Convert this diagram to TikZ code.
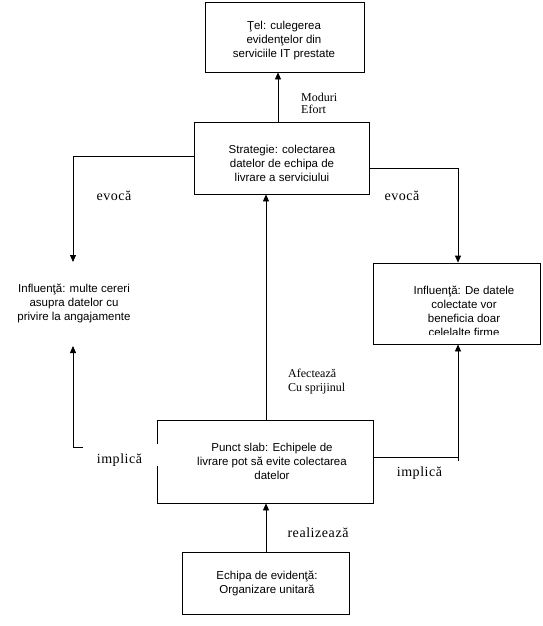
\documentclass[tikz,border=0pt]{standalone}
\usepackage{fontspec}
\setmainfont{Liberation Serif}
\newfontfamily\sansfam{Liberation Sans}
\newfontfamily\widefam[LetterSpace=4]{Liberation Serif}
\usetikzlibrary{arrows.meta}
\begin{document}
\begin{tikzpicture}[x=1pt,y=-1pt,
  box/.style={draw, line width=0.8pt, inner sep=0pt},
  stxt/.style={font=\sansfam\fontsize{11.5}{14}\selectfont, align=center, inner sep=0pt},
  lbl/.style={font=\fontsize{12}{14}\selectfont, inner sep=0pt},
  blbl/.style={font=\widefam\fontsize{14}{16}\selectfont, inner sep=0pt},
  ln/.style={line width=0.8pt},
  arr/.style={line width=0.8pt, -{Triangle[width=6pt,length=7pt]}}]
\useasboundingbox (0,0) rectangle (543,626);
% boxes
\node[box, minimum width=159pt, minimum height=70pt] (tel) at (284.5,37) {};
\node[stxt] (telt) at (284,40.5) {Ţel: culegerea\\evidenţelor din\\serviciile IT prestate};
\node[box, minimum width=175pt, minimum height=72pt] (strat) at (281.5,158) {};
\node[stxt] (stratt) at (282,163) {Strategie: colectarea\\datelor de echipa de\\livrare a serviciului};
\node[box, minimum width=167pt, minimum height=81pt] (infr) at (456.5,303.5) {};
\begin{scope}
  \clip (373,263) rectangle (540,334.5);
  \node[stxt] (infrt) at (464,311) {Influenţă: De datele\\colectate vor\\beneficia doar\\celelalte firme};
\end{scope}
\node[stxt] (infl) at (74,303) {Influenţă: multe cereri\\asupra datelor cu\\privire la angajamente};
\node[box, minimum width=216pt, minimum height=83pt] (punct) at (265,461.5) {};
\node[stxt] (punctt) at (272,461) {Punct slab: Echipele de\\livrare pot să evite colectarea\\datelor};
\node[box, minimum width=167pt, minimum height=62pt] (echipa) at (265.5,583) {};
\node[stxt] (echipat) at (267,583.5) {Echipa de evidenţă:\\Organizare unitară};
% helper coordinates
\coordinate (c1) at (278,0);
\coordinate (c2) at (73,156);
\coordinate (c2e) at (73,262);
\coordinate (c3) at (458,168);
\coordinate (c4) at (266,0);
\coordinate (c5) at (73,447);
\coordinate (c5e) at (73,346);
\coordinate (c6) at (458,457);
\coordinate (c6b) at (458,461);
% connectors
\draw[arr] (strat.north -| c1) -- (tel.south -| c1);
\draw[arr] (strat.west |- c2) -- (c2) -- (c2e);
\draw[arr] (strat.east |- c3) -| (infr.north -| c3);
\draw[arr] (punct.north -| c4) -- (strat.south -| c4);
\draw[arr] (echipa.north -| c4) -- (punct.south -| c4);
\draw[arr] (punct.west |- c5) -- (c5) -- (c5e);
\draw[ln] (punct.east |- c6) -- (c6);
\draw[arr] (c6b) -- (infr.south -| c6b);
% labels
\node[lbl, anchor=west] (mod) at (301,97) {Moduri};
\node[lbl, anchor=west] (efo) at (301,109) {Efort};
\node[lbl, anchor=west] (afe) at (288,373) {Afectează};
\node[lbl, anchor=west] (cus) at (288,389) {Cu sprijinul};
\node[blbl] (ev1) at (114,196) {evocă};
\node[blbl] (ev2) at (402,196) {evocă};
\node[blbl] (rea) at (318,533) {realizează};
\node[blbl] (imp2) at (419.5,473) {implică};
\node[fill=white, minimum width=76pt, minimum height=22pt, inner sep=0pt] (w1) at (121,455) {};
\node[blbl] (imp1) at (119.5,460) {implică};
\end{tikzpicture}
\end{document}
